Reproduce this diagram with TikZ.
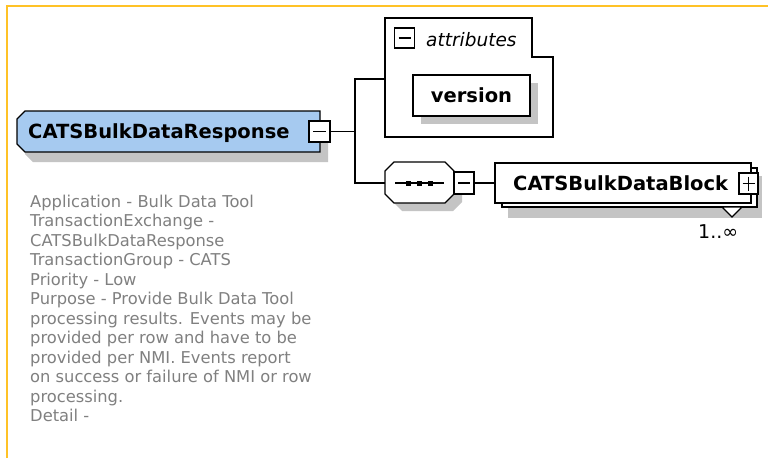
\documentclass[tikz,border=0pt]{standalone}
\usepackage{fontspec}
\setmainfont{DejaVu Sans}
\definecolor{borderc}{RGB}{255,194,38}
\definecolor{elemblue}{RGB}{166,202,240}
\definecolor{shadowc}{RGB}{196,196,196}
\definecolor{descgray}{RGB}{128,128,128}
\tikzset{
  outl/.style={draw=black, line width=1.3pt, line join=miter},
  conn/.style={draw=black, line width=1.3pt},
  btn/.style={draw=black, fill=white, line width=1.2pt, inner sep=0pt, minimum width=20pt, minimum height=21pt},
  sign/.style={draw=black, line width=1.2pt},
  boldlbl/.style={font=\fontsize{19.5}{23}\selectfont\bfseries, inner sep=0pt, anchor=base west},
  desc/.style={font=\fontsize{16.3}{19.5}\selectfont, text=descgray, inner sep=0pt, anchor=north west, align=left},
}
\begin{document}
\begin{tikzpicture}[x=1pt,y=-1pt]
\useasboundingbox (0,0) rectangle (768,458);
\fill[white] (0,0) rectangle (768,458);
\draw[borderc, line width=2.2pt] (7,458) -- (7,6) -- (768,6);

% main element
\fill[shadowc] (33,121) -- (328,121) -- (328,162) -- (33,162) -- (25,154) -- (25,129) -- cycle;
\draw[outl, fill=elemblue] (25,111) -- (320,111) -- (320,152) -- (25,152) -- (17,144) -- (17,119) -- cycle;
\node[boldlbl] (mainlbl) at (28,138) {CATSBulkDataResponse};
\node[btn, minimum width=21pt] (mainbtn) at (319.5,131.5) {};
\draw[sign] (mainbtn.center) ++(-6.5,0) -- ++(13,0);

% connectors
\coordinate (fork) at (355,131.5);
\coordinate (attrin) at (385,79);
\coordinate (seqin) at (385,183);
\draw[conn] (mainbtn.east) -- (fork);
\draw[conn] (attrin) -| (fork) |- (seqin);

% attributes
\draw[outl, fill=white] (385,18) -- (532,18) -- (532,57) -- (553,57) -- (553,137) -- (385,137) -- cycle;
\node[btn, minimum height=20pt] (attrbtn) at (404.5,38) {};
\draw[sign] (attrbtn.center) ++(-6,0) -- ++(12,0);
\node[font=\fontsize{18.5}{22}\selectfont\itshape, inner sep=0pt, anchor=base west] (attrlbl) at (426,46) {attributes};

\fill[shadowc] (421,83) rectangle (538,124);
\node[outl, fill=white, minimum width=117pt, minimum height=41pt, inner sep=0pt,
      font=\fontsize{19.5}{23}\selectfont\bfseries] (version) at (471.5,95.5) {version};

% sequence compositor
\fill[shadowc] (402,170) -- (453,170) -- (462,179) -- (462,202) -- (453,211) -- (402,211) -- (393,202) -- (393,179) -- cycle;
\draw[outl, fill=white] (394,162) -- (445,162) -- (454,171) -- (454,194) -- (445,203) -- (394,203) -- (385,194) -- (385,171) -- cycle;
\draw[sign] (395,183) -- (444,183);
\fill (405.5,180.5) rectangle +(5,5);
\fill (416.5,180.5) rectangle +(5,5);
\fill (427.5,180.5) rectangle +(5,5);
\node[btn, minimum height=22pt] (seqbtn) at (464,183) {};
\draw[sign] (seqbtn.center) ++(-6,0) -- ++(12,0);

% CATSBulkDataBlock
\fill[shadowc] (508,176) rectangle (762,218);
\draw[outl, fill=white] (502,168) rectangle (757,207);
\node[outl, fill=white, minimum width=256pt, minimum height=40pt, inner sep=0pt] (block) at (623,183) {};
\node[boldlbl] (blocklbl) at (513,190) {CATSBulkDataBlock};
\node[btn, minimum width=19pt] (blockbtn) at (748.5,183.5) {};
\draw[sign] (blockbtn.center) ++(-6,0) -- ++(12,0);
\draw[sign] (blockbtn.center) ++(0,-7) -- ++(0,14);
\draw[conn] (seqbtn.east) -- (block.west);
\draw[line width=1.1pt, fill=white] (722,207) -- (742,207) -- (732,217) -- cycle;
\node[font=\fontsize{19}{22}\selectfont, inner sep=0pt, anchor=base west] (card) at (698,238) {1..∞};

% description
\node[desc] (desc) at (30,194.6) {Application - Bulk Data Tool\\
TransactionExchange -\\
CATSBulkDataResponse\\
TransactionGroup - CATS\\
Priority - Low\\
Purpose - Provide Bulk Data Tool\\
processing results. Events may be\\
provided per row and have to be\\
provided per NMI. Events report\\
on success or failure of NMI or row\\
processing.\\
Detail -};
\end{tikzpicture}
\end{document}
